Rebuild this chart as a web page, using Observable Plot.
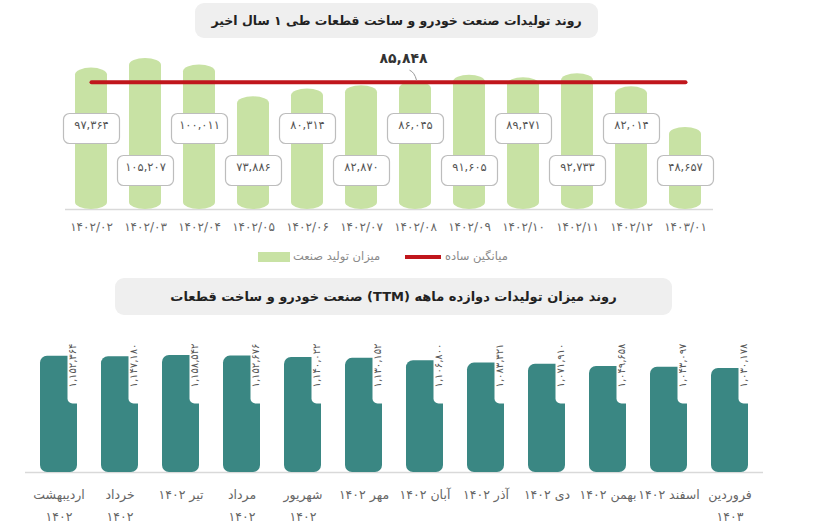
<!DOCTYPE html>
<html><head><meta charset="utf-8">
<script src="https://cdn.jsdelivr.net/npm/d3@7"></script>
<script src="https://cdn.jsdelivr.net/npm/@observablehq/plot@0.6"></script>
<style>
body{margin:0;background:#fff;font-family:"DejaVu Sans",sans-serif;}
#root{position:relative;width:815px;height:530px;overflow:hidden;background:#fff;}
.title{position:absolute;background:#efefef;border-radius:9px;text-align:center;font-weight:bold;color:#222;direction:rtl;white-space:nowrap;}
.chart{position:absolute;left:0;}
.lg{position:absolute;font-size:11.5px;color:#8a8a8a;direction:rtl;white-space:nowrap;}
.sw{position:absolute;}
</style></head><body><div id="root">
<div class="title" style="left:195px;top:3px;width:403px;height:35px;line-height:35px;font-size:12.5px;">روند تولیدات صنعت خودرو و ساخت قطعات طی ۱ سال اخیر</div>
<div class="chart" id="c1" style="top:40px;"></div>
<div class="sw" style="left:258px;top:252px;width:32px;height:10px;background:#c8e2a4;"></div>
<div class="lg" style="left:293px;top:249px;">میزان تولید صنعت</div>
<div class="sw" style="left:405px;top:255px;width:36px;height:4px;background:#c0161c;"></div>
<div class="lg" style="left:445px;top:249px;">میانگین ساده</div>
<div class="title" style="left:115px;top:278px;width:557px;height:37px;line-height:37px;font-size:13px;">روند میزان تولیدات دوازده ماهه (TTM) صنعت خودرو و ساخت قطعات</div>
<div class="chart" id="c2" style="top:318px;"></div>
</div>
<script>
// ---- data ----
const months = ["۱۴۰۲/۰۲","۱۴۰۲/۰۳","۱۴۰۲/۰۴","۱۴۰۲/۰۵","۱۴۰۲/۰۶","۱۴۰۲/۰۷","۱۴۰۲/۰۸","۱۴۰۲/۰۹","۱۴۰۲/۱۰","۱۴۰۲/۱۱","۱۴۰۲/۱۲","۱۴۰۳/۰۱"];
const production = [97364, 105207, 100011, 73886, 80314, 82870, 86045, 91605, 89471, 92733, 82014, 48657];
const average = 85848;
const ttmLabels = ["اردیبهشت\n۱۴۰۲","خرداد\n۱۴۰۲","تیر ۱۴۰۲","مرداد\n۱۴۰۲","شهریور\n۱۴۰۲","مهر ۱۴۰۲","آبان ۱۴۰۲","آذر ۱۴۰۲","دی ۱۴۰۲","بهمن ۱۴۰۲","اسفند ۱۴۰۲","فروردین\n۱۴۰۳"];
const ttm = [1152364, 1147180, 1158542, 1152676, 1140022, 1130152, 1106800, 1083321, 1071910, 1049658, 1043097, 1030178];

// ---- helpers ----
const faDigits = "۰۱۲۳۴۵۶۷۸۹";
const fa = s => String(s).replace(/\d/g, d => faDigits[d]);
const fmt = v => fa(d3.format(",")(v));

function boxSymbol(w, h, r) {
  return {draw(ctx) {
    const x0 = -w/2, y0 = -h/2, x1 = w/2, y1 = h/2;
    ctx.moveTo(x0 + r, y0);
    ctx.lineTo(x1 - r, y0); ctx.arcTo(x1, y0, x1, y0 + r, r);
    ctx.lineTo(x1, y1 - r); ctx.arcTo(x1, y1, x1 - r, y1, r);
    ctx.lineTo(x0 + r, y1); ctx.arcTo(x0, y1, x0, y1 - r, r);
    ctx.lineTo(x0, y0 + r); ctx.arcTo(x0, y0, x0 + r, y0, r);
    ctx.closePath();
  }};
}
const notchSymbol = {draw(ctx) {
  const l = 8.5, r = 40, t = -110, rad = 5;
  ctx.moveTo(l, t); ctx.lineTo(r, t); ctx.lineTo(r, 0);
  ctx.lineTo(l + rad, 0); ctx.arcTo(l, 0, l, -rad, rad);
  ctx.closePath();
}};
const leader = {draw(ctx) {
  ctx.moveTo(0, 0); ctx.quadraticCurveTo(5, 2, 7, 10);
}};

// ---- top chart ----
const topData = months.map((m, i) => ({month: m, value: production[i], i}));
const yBase = -18500;
const even = topData.filter(d => d.i % 2 === 0);
const odd = topData.filter(d => d.i % 2 === 1);
const box = boxSymbol(56, 30, 6);

const chart1 = Plot.plot({
  width: 815, height: 210,
  marginLeft: 53, marginRight: 92, marginTop: 10, marginBottom: 41,
  x: {domain: months, padding: 0.4, axis: null},
  y: {domain: [yBase, 111800], axis: null},
  style: {fontFamily: "DejaVu Sans, sans-serif", background: "transparent"},
  marks: [
    Plot.ruleY([yBase], {stroke: "#d9d9d9", strokeWidth: 1.5, insetLeft: 12, insetRight: 10}),
    Plot.barY(topData, {x: "month", y1: yBase, y2: "value", fill: "#c8e2a4", rx: 16, ry: 7}),
    Plot.line(topData, {x: "month", y: d => average, stroke: "#c0161c", strokeWidth: 4}),
    Plot.dot([average], {x: () => months[6], y: d => d, symbol: leader, dx: -6, dy: -12, fill: "none", stroke: "#999", strokeWidth: 1}),
    Plot.text([average], {x: () => months[6], y: d => d, text: d => fmt(d), dy: -24, dx: -12, fontSize: 14, fill: "#333", fontWeight: "bold"}),
    Plot.dot(even, {x: "month", frameAnchor: "bottom", dy: -81, symbol: box, fill: "white", stroke: "#bdbdbd", strokeWidth: 1.2}),
    Plot.text(even, {x: "month", text: d => fmt(d.value), frameAnchor: "bottom", dy: -81, fontSize: 11.5, fill: "#555"}),
    Plot.dot(odd, {x: "month", frameAnchor: "bottom", dy: -39, symbol: box, fill: "white", stroke: "#bdbdbd", strokeWidth: 1.2}),
    Plot.text(odd, {x: "month", text: d => fmt(d.value), frameAnchor: "bottom", dy: -39, fontSize: 11.5, fill: "#555"}),
    Plot.text(topData, {x: "month", text: "month", frameAnchor: "bottom", dy: 21, fontSize: 12, fill: "#666"})
  ]
});
document.getElementById("c1").appendChild(chart1);

// ---- bottom chart ----
const botData = ttmLabels.map((m, i) => ({label: m, value: ttm[i]}));
const chart2 = Plot.plot({
  width: 815, height: 212,
  marginLeft: 11, marginRight: 39, marginTop: 0, marginBottom: 58,
  x: {domain: ttmLabels, padding: 0.4, axis: null},
  y: {domain: [0, 1525000], axis: null},
  style: {fontFamily: "DejaVu Sans, sans-serif", background: "transparent"},
  marks: [
    Plot.ruleY([0], {stroke: "#d9d9d9", strokeWidth: 1.5, insetLeft: 14, insetRight: 13}),
    Plot.barY(botData, {x: "label", y: "value", fill: "#3a8783", rx: 7}),
    Plot.dot(botData, {x: "label", frameAnchor: "bottom", dy: -69, symbol: notchSymbol, fill: "white", stroke: "none"}),
    Plot.text(botData, {x: "label", text: d => fmt(d.value), frameAnchor: "bottom", dy: -107, dx: 17, rotate: -90, fontSize: 10, fill: "#555"}),
    Plot.text(botData, {x: "label", text: "label", frameAnchor: "bottom", dy: 11, lineAnchor: "top", lineHeight: 1.75, fontSize: 12.5, fill: "#666"})
  ]
});
document.getElementById("c2").appendChild(chart2);
</script>
</body></html>
